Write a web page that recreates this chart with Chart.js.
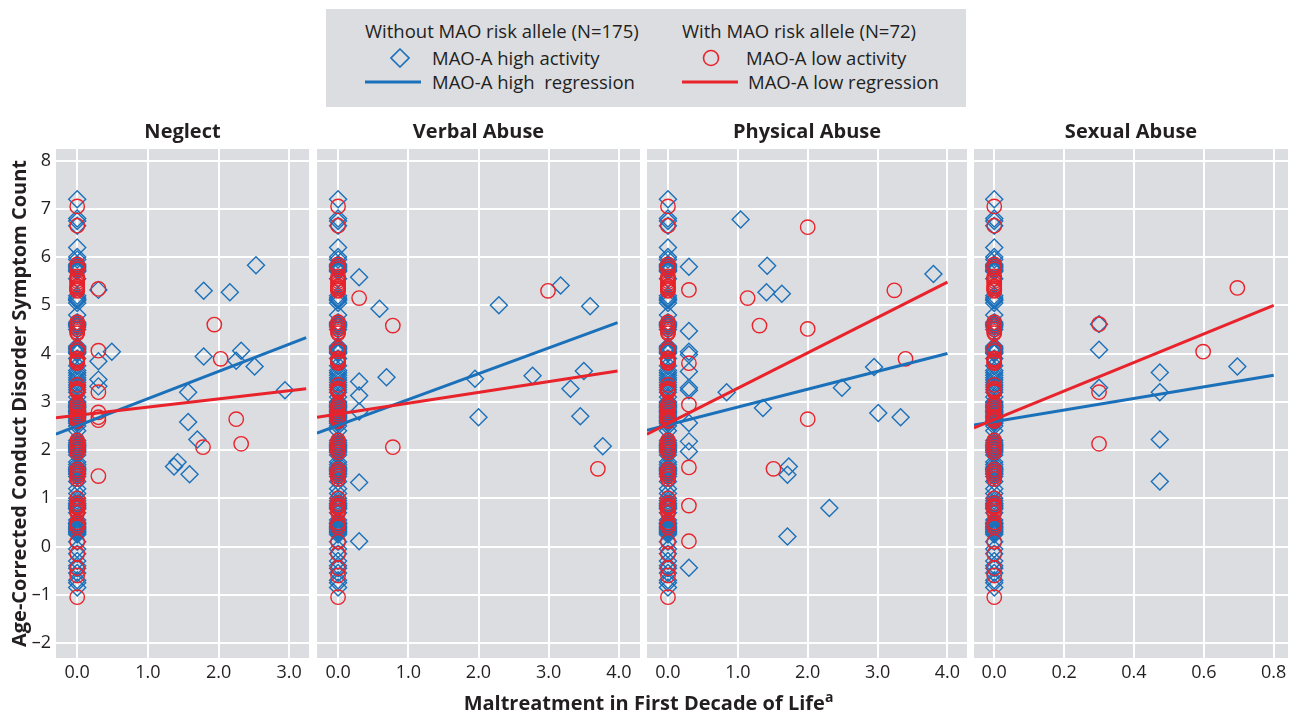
<!DOCTYPE html>
<html>
<head>
<meta charset="utf-8">
<script src="https://cdn.jsdelivr.net/npm/chart.js"></script>
<style>
  body { margin: 0; background: #fff; font-family: "Open Sans", "Noto Sans", sans-serif; color: #231f20; }
  .panel { position: absolute; top: 115px; height: 600px; }
  #legend { position: absolute; left: 326px; top: 9px; width: 640px; height: 98px; background: #dcdde0; font-size: 18.5px; }
  #legend div { position: absolute; white-space: nowrap; line-height: 22px; }
  #legend svg { position: absolute; }
  #xtitle { position: absolute; top: 691px; left: 0; width: 1297px; text-align: center; font-weight: bold; font-size: 20px; line-height: 24px; }
  #xtitle sup { font-size: 14px; line-height: 0; }
</style>
</head>
<body>

<div id="legend">
  <div style="left:39px; top:11px">Without MAO risk allele (N=175)</div>
  <div style="left:356px; top:11px">With MAO risk allele (N=72)</div>
  <svg style="left:64px; top:39px" width="20" height="20"><path d="M10 1 L19 10 L10 19 L1 10 Z" fill="none" stroke="#1b70ba" stroke-width="1.6"/></svg>
  <div style="left:106px; top:38px">MAO-A high activity</div>
  <svg style="left:39px; top:71px" width="56" height="4"><line x1="0" y1="2" x2="56" y2="2" stroke="#1b70ba" stroke-width="3"/></svg>
  <div style="left:106px; top:62px">MAO-A high&nbsp; regression</div>
  <svg style="left:376px; top:40px" width="18" height="18"><circle cx="9" cy="9" r="7.5" fill="none" stroke="#e8232b" stroke-width="1.6"/></svg>
  <div style="left:420px; top:38px">MAO-A low activity</div>
  <svg style="left:356px; top:71px" width="56" height="4"><line x1="0" y1="2" x2="56" y2="2" stroke="#e8232b" stroke-width="3"/></svg>
  <div style="left:422px; top:62px">MAO-A low regression</div>
</div>

<div class="panel" style="left:0px; width:309px"><canvas id="c0"></canvas></div>
<div class="panel" style="left:317px; width:323px"><canvas id="c1"></canvas></div>
<div class="panel" style="left:647px; width:320px"><canvas id="c2"></canvas></div>
<div class="panel" style="left:974px; width:314px"><canvas id="c3"></canvas></div>

<div id="xtitle">Maltreatment in First Decade of Life<sup>a</sup></div>

<script>
// panel titles and axes
const panelTitles = ["Neglect", "Verbal Abuse", "Physical Abuse", "Sexual Abuse"];
const yTicks = [-2, -1, 0, 1, 2, 3, 4, 5, 6, 7, 8];
const neglectXTicks = [0, 1, 2, 3];
const verbalXTicks = [0, 1, 2, 3, 4];
const physicalXTicks = [0, 1, 2, 3, 4];
const sexualXTicks = [0, 0.2, 0.4, 0.6, 0.8];
const xRanges = [[-0.30, 3.28], [-0.30, 4.30], [-0.30, 4.28], [-0.058, 0.841]];

// people with no maltreatment (x = 0), same column in every panel
const zeroHighY = [7.2, 6.8, 6.75, 6.65, 6.2, 6.0, 5.95, 5.85, 5.82, 5.8, 5.78, 5.75, 5.72, 5.7, 5.55,
  5.2, 5.15, 5.12, 5.1, 5.05, 4.8, 4.65, 4.62, 4.6, 4.58, 4.55, 4.5, 4.15, 4.12, 4.1, 4.08, 4.05,
  4.02, 4.0, 3.9, 3.75, 3.65, 3.6, 3.55, 3.5, 3.45, 3.4, 3.35, 3.3, 3.25, 3.2, 3.1, 3.0, 2.98, 2.95,
  2.92, 2.9, 2.88, 2.85, 2.82, 2.8, 2.78, 2.75, 2.72, 2.7, 2.68, 2.65, 2.62, 2.6, 2.58, 2.55, 2.5,
  2.4, 2.2, 2.15, 2.12, 2.1, 2.08, 2.05, 2.02, 2.0, 1.98, 1.95, 1.9, 1.75, 1.7, 1.65, 1.62, 1.6,
  1.58, 1.55, 1.52, 1.5, 1.45, 1.35, 1.2, 1.1, 1.0, 0.95, 0.9, 0.88, 0.85, 0.82, 0.8, 0.78, 0.7,
  0.55, 0.5, 0.48, 0.45, 0.42, 0.4, 0.38, 0.35, 0.32, 0.3, 0.28, 0.25, 0.1, -0.05, -0.15, -0.3,
  -0.4, -0.45, -0.55, -0.7, -0.75, -0.85];
const zeroLowY = [7.05, 6.65, 5.85, 5.8, 5.75, 5.6, 5.55, 5.5, 5.45, 5.4, 5.38, 5.35, 5.32, 5.3,
  4.65, 4.6, 4.55, 4.5, 4.45, 4.42, 4.1, 4.05, 3.9, 3.88, 3.85, 3.82, 3.8, 3.35, 3.28, 3.25, 3.22,
  3.2, 2.95, 2.9, 2.85, 2.8, 2.75, 2.7, 2.68, 2.65, 2.62, 2.6, 2.2, 2.15, 2.1, 2.05, 2.0, 1.95,
  1.6, 1.55, 1.5, 1.45, 1.4, 1.0, 0.9, 0.85, 0.82, 0.8, 0.75, 0.7, 0.5, 0.45, 0.4, 0.1, -0.15,
  -0.45, -0.6, -1.05];

// maltreated cases [x, y]
const neglectHigh = [[0.3, 5.32], [0.3, 3.84], [0.49, 4.04], [0.3, 3.46], [0.3, 3.32], [1.79, 5.30],
  [2.16, 5.27], [2.53, 5.83], [1.79, 3.94], [2.32, 4.06], [2.25, 3.85], [2.51, 3.73], [1.57, 3.20],
  [2.94, 3.24], [1.57, 2.58], [1.70, 2.22], [1.42, 1.75], [1.37, 1.66], [1.59, 1.50]];
const neglectLow = [[0.3, 5.34], [0.3, 4.06], [0.3, 3.20], [0.3, 2.78], [0.3, 2.68], [0.3, 2.62],
  [0.3, 1.46], [1.94, 4.60], [2.03, 3.89], [2.25, 2.64], [1.78, 2.06], [2.32, 2.13]];
const verbalHigh = [[0.30, 5.58], [0.59, 4.93], [2.29, 5.00], [3.17, 5.41], [3.59, 4.98], [0.30, 3.42],
  [0.69, 3.51], [0.30, 3.13], [0.30, 2.80], [1.95, 3.48], [2.77, 3.54], [3.50, 3.64], [3.31, 3.27],
  [2.00, 2.68], [3.45, 2.70], [3.77, 2.08], [0.30, 1.33], [0.30, 0.11]];
const verbalLow = [[0.30, 5.15], [0.78, 4.58], [2.99, 5.30], [0.78, 2.06], [3.70, 1.61]];
const physicalHigh = [[0.30, 5.80], [1.04, 6.78], [1.42, 5.82], [1.41, 5.27], [1.63, 5.24], [3.80, 5.65],
  [0.30, 4.47], [0.30, 4.04], [0.30, 3.98], [0.30, 3.63], [0.30, 3.29], [0.30, 3.24], [0.30, 2.56],
  [0.30, 2.18], [0.30, 1.97], [0.84, 3.20], [1.36, 2.87], [2.49, 3.29], [2.95, 3.72], [3.01, 2.77],
  [3.33, 2.68], [1.73, 1.66], [1.71, 1.49], [2.31, 0.80], [1.71, 0.21], [0.30, -0.44]];
const physicalLow = [[0.30, 5.32], [2.00, 6.62], [1.14, 5.15], [1.31, 4.58], [2.00, 4.51], [3.24, 5.31],
  [3.40, 3.89], [0.30, 3.80], [0.30, 2.94], [2.00, 2.64], [0.30, 1.64], [1.51, 1.61], [0.30, 0.85],
  [0.30, 0.11]];
const sexualHigh = [[0.30, 4.61], [0.30, 4.08], [0.30, 3.29], [0.474, 3.61], [0.474, 3.20],
  [0.696, 3.73], [0.474, 2.22], [0.474, 1.35]];
const sexualLow = [[0.30, 4.61], [0.30, 3.20], [0.696, 5.36], [0.598, 4.04], [0.30, 2.13]];

// regression line end points [x, y]
const neglectHighLine = [[-0.30, 2.33], [3.24, 4.33]];
const neglectLowLine = [[-0.30, 2.67], [3.24, 3.27]];
const verbalHighLine = [[-0.30, 2.35], [3.98, 4.64]];
const verbalLowLine = [[-0.30, 2.68], [3.98, 3.64]];
const physicalHighLine = [[-0.30, 2.41], [4.00, 4.00]];
const physicalLowLine = [[-0.30, 2.33], [4.00, 5.48]];
const sexualHighLine = [[-0.058, 2.52], [0.80, 3.55]];
const sexualLowLine = [[-0.058, 2.46], [0.80, 5.00]];

const BLUE = "#1b70ba";
const RED = "#e8232b";
const FONT = "'Open Sans', 'Noto Sans', sans-serif";

const panels = [
  { title: panelTitles[0], xTicks: neglectXTicks, high: neglectHigh, low: neglectLow, highLine: neglectHighLine, lowLine: neglectLowLine },
  { title: panelTitles[1], xTicks: verbalXTicks, high: verbalHigh, low: verbalLow, highLine: verbalHighLine, lowLine: verbalLowLine },
  { title: panelTitles[2], xTicks: physicalXTicks, high: physicalHigh, low: physicalLow, highLine: physicalHighLine, lowLine: physicalLowLine },
  { title: panelTitles[3], xTicks: sexualXTicks, high: sexualHigh, low: sexualLow, highLine: sexualHighLine, lowLine: sexualLowLine },
];

const toPts = arr => arr.map(p => ({ x: p[0], y: p[1] }));

const panelDeco = {
  id: "panelDeco",
  beforeDraw(chart) {
    const { ctx, chartArea: a } = chart;
    ctx.save();
    ctx.fillStyle = "#dcdde0";
    ctx.fillRect(a.left, a.top, a.right - a.left, a.bottom - a.top);
    ctx.restore();
  },
  afterDraw(chart, args, opts) {
    const { ctx, chartArea: a } = chart;
    ctx.save();
    ctx.font = "bold 20px " + FONT;
    ctx.fillStyle = "#231f20";
    ctx.textAlign = "center";
    ctx.textBaseline = "middle";
    ctx.fillText(opts.text, (a.left + a.right) / 2, 17);
    ctx.restore();
  }
};

panels.forEach((p, i) => {
  const first = i === 0;
  const zeroHigh = zeroHighY.map(y => ({ x: 0, y: y }));
  const zeroLow = zeroLowY.map(y => ({ x: 0, y: y }));

  new Chart(document.getElementById("c" + i), {
    type: "scatter",
    data: {
      datasets: [
        { type: "line", data: toPts(p.lowLine), borderColor: RED, borderWidth: 3, pointRadius: 0, order: 0 },
        { type: "line", data: toPts(p.highLine), borderColor: BLUE, borderWidth: 3, pointRadius: 0, order: 1 },
        { data: zeroLow.concat(toPts(p.low)), pointStyle: "circle", pointRadius: 7.2, borderColor: RED, borderWidth: 1.4, backgroundColor: "rgba(0,0,0,0)", order: 2 },
        { data: zeroHigh.concat(toPts(p.high)), pointStyle: "rectRot", pointRadius: 8.5, borderColor: BLUE, borderWidth: 1.4, backgroundColor: "rgba(0,0,0,0)", order: 3 },
      ]
    },
    options: {
      responsive: true,
      maintainAspectRatio: false,
      animation: false,
      layout: { autoPadding: false, padding: { top: 34, left: 0, right: 0, bottom: 0 } },
      plugins: {
        legend: { display: false },
        tooltip: { enabled: false },
        panelDeco: { text: p.title }
      },
      scales: {
        x: {
          type: "linear",
          min: xRanges[i][0],
          max: xRanges[i][1],
          afterBuildTicks: s => { s.ticks = p.xTicks.map(v => ({ value: v })); },
          afterFit: s => { s.height = 57; s.paddingLeft = 0; s.paddingRight = 0; },
          grid: { color: "#ffffff", lineWidth: 2, drawTicks: false },
          border: { display: false },
          ticks: {
            padding: 4,
            color: "#231f20",
            font: { family: FONT, size: 18 },
            callback: v => v.toFixed(1)
          }
        },
        y: {
          type: "linear",
          min: -2.31,
          max: 8.24,
          afterBuildTicks: s => { s.ticks = yTicks.map(v => ({ value: v })); },
          afterFit: s => { s.width = first ? 56 : 0; s.paddingTop = 0; s.paddingBottom = 0; },
          grid: { color: "#ffffff", lineWidth: 2, drawTicks: false },
          border: { display: false },
          ticks: {
            display: first,
            padding: 5,
            color: "#231f20",
            font: { family: FONT, size: 18 },
            callback: v => String(v).replace("-", "\u2013")
          },
          title: {
            display: first,
            text: "Age-Corrected Conduct Disorder Symptom Count",
            color: "#231f20",
            font: { family: FONT, size: 20, weight: "bold" },
            padding: { top: 8, bottom: 0 }
          }
        }
      }
    },
    plugins: [panelDeco]
  });
});
</script>
</body>
</html>
